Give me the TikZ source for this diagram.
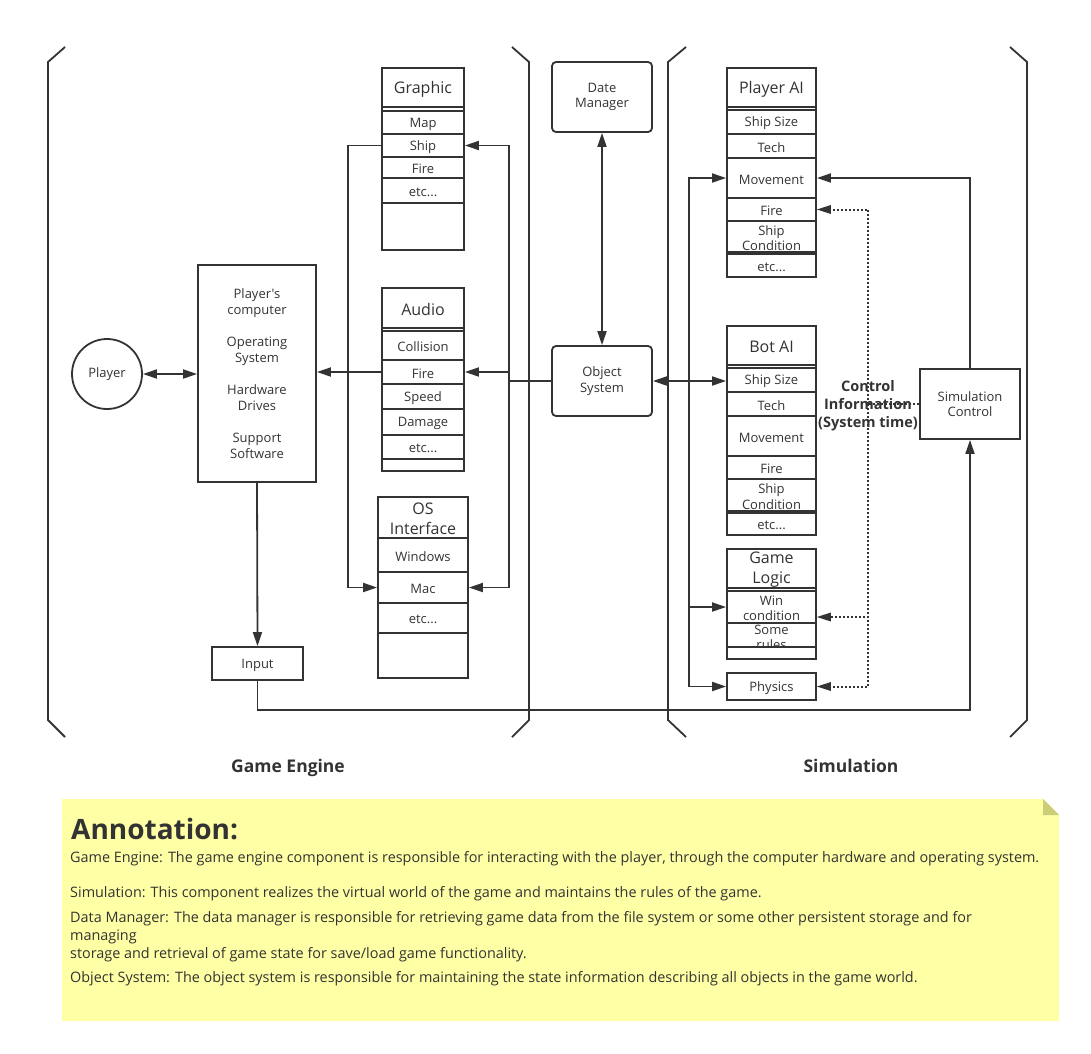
\documentclass[tikz,border=0pt]{standalone}
\usepackage{fontspec}
\setmainfont{Open Sans}[Ligatures=TeXOff]
\usetikzlibrary{arrows.meta,calc}
\definecolor{ink}{HTML}{333333}
\definecolor{notefill}{HTML}{FFFFA6}
\definecolor{foldfill}{HTML}{CDCD78}
\newcommand\mkcell[7][rowtxt]{%
 \pgfmathsetmacro\cw{#5-#3}\pgfmathsetmacro\ch{#6-#4}%
 \pgfmathsetmacro\cx{(#3+#5)/2}\pgfmathsetmacro\cy{(#4+#6)/2}%
 \node[cellb, minimum width=\cw pt, minimum height=\ch pt] (#2) at (\cx,\cy) {};%
 \node[#1] (#2-t) at (\cx,\cy) {#7};}
\tikzset{
 cellb/.style={draw=ink, line width=1.8pt, inner sep=0pt, rectangle},
 rowtxt/.style={inner sep=0pt, align=center, text=ink, yshift=-1.5pt, font=\fontsize{13}{15.5}\selectfont},
 hdrtxt/.style={rowtxt, font=\fontsize{16}{20}\selectfont},
 ln/.style={draw=ink, line width=1.8pt},
 bracket/.style={draw=ink, line width=1.8pt},
 tip/.tip={Triangle[length=14pt,width=9pt]},
 arr/.style={ln, -tip},
 arrb/.style={ln, tip-tip},
 dotln/.style={draw=ink, line width=2pt, dash pattern=on 2pt off 2pt},
 darr/.style={dotln, -{Triangle[length=14pt,width=9pt,line width=0pt]}},
 rbox/.style={draw=ink, line width=1.8pt, rounded corners=4pt, minimum width=100pt, minimum height=70pt, align=center, inner sep=0pt, text=ink, font=\fontsize{13}{15.5}\selectfont},
 sbox/.style={draw=ink, line width=1.8pt, minimum width=100pt, minimum height=70pt, align=center, inner sep=0pt, text=ink, font=\fontsize{13}{15.5}\selectfont},
 biglbl/.style={text=ink, inner sep=0pt, text height=12.5pt, text depth=4.5pt, font=\fontsize{17.5}{20}\selectfont\bfseries},
 notetxt/.style={anchor=west, inner sep=0pt, text=ink, font=\fontsize{14.4}{17}\selectfont, text height=10pt, text depth=3pt},
}
\begin{document}
\begin{tikzpicture}[x=1pt,y=-1pt]
\useasboundingbox (0,0) rectangle (1091,1053);
% brackets
\draw[bracket] (65,47) -- (48,62) -- (48,720) -- (65,737);
\draw[bracket] (512,47) -- (529,62) -- (529,720) -- (512,737);
\draw[bracket] (686,47) -- (668,62) -- (668,720) -- (686,737);
\draw[bracket] (1010,47) -- (1027,62) -- (1027,720) -- (1010,737);
\node[biglbl] (gelbl) at (288,768) {Game Engine};
\node[biglbl] (simlbl) at (851,768) {Simulation};

% Player and computer
\node[draw=ink, line width=1.8pt, circle, minimum size=70pt, inner sep=0pt, text=ink, font=\fontsize{13}{15.5}\selectfont] (player) at (107,374) {Player};
\node[draw=ink, line width=1.8pt, minimum width=118pt, minimum height=217pt, inner sep=0pt, align=center, text=ink, font=\fontsize{13}{16}\selectfont] (pc) at (257,373.5)
 {Player's\\computer\\[16pt]Operating\\System\\[16pt]Hardware\\Drives\\[16pt]Support\\Software};
\mkcell{input}{212}{647}{303}{680}{Input}

% Graphic
\mkcell{gfr}{382}{68}{464}{250}{}
\mkcell[hdrtxt]{ghd}{382}{68}{464}{107}{Graphic}
\mkcell{gmap}{382}{111}{464}{134}{Map}
\mkcell{gship}{382}{134}{464}{157}{Ship}
\mkcell{gfire}{382}{157}{464}{178}{Fire}
\mkcell{getc}{382}{178}{464}{203}{etc...}
% Audio
\mkcell{afr}{382}{288}{464}{471}{}
\mkcell[hdrtxt]{ahd}{382}{288}{464}{328}{Audio}
\mkcell{acol}{382}{331}{464}{360}{Collision}
\mkcell{afire}{382}{360}{464}{384}{Fire}
\mkcell{aspd}{382}{384}{464}{409}{Speed}
\mkcell{adam}{382}{409}{464}{435}{Damage}
\mkcell{aetc}{382}{435}{464}{459}{etc...}
% OS Interface
\mkcell{ofr}{378}{497}{468}{678}{}
\mkcell[hdrtxt]{ohd}{378}{497}{468}{538}{OS\\Interface}
\mkcell{owin}{378}{538}{468}{572}{Windows}
\mkcell{omac}{378}{572}{468}{603}{Mac}
\mkcell{oetc}{378}{603}{468}{633}{etc...}

% middle
\node[rbox] (date) at (602,97) {Date\\Manager};
\node[rbox] (obj) at (602,381) {Object\\System};

% Player AI
\mkcell{pfr}{727}{68}{816}{277}{}
\mkcell[hdrtxt]{phd}{727}{68}{816}{107}{Player AI}
\mkcell{psize}{727}{110}{816}{134}{Ship Size}
\mkcell{ptech}{727}{134}{816}{158}{Tech}
\mkcell{pmove}{727}{158}{816}{198}{Movement}
\mkcell{pfire}{727}{198}{816}{221}{Fire}
\mkcell{pcond}{727}{221}{816}{252}{Ship\\Condition}
\mkcell{petc}{727}{254}{816}{277}{etc...}
% Bot AI
\mkcell{bfr}{727}{326}{816}{535}{}
\mkcell[hdrtxt]{bhd}{727}{326}{816}{365}{Bot AI}
\mkcell{bsize}{727}{368}{816}{392}{Ship Size}
\mkcell{btech}{727}{392}{816}{416}{Tech}
\mkcell{bmove}{727}{416}{816}{456}{Movement}
\mkcell{bfire}{727}{456}{816}{479}{Fire}
\mkcell{bcond}{727}{479}{816}{511}{Ship\\Condition}
\mkcell{betc}{727}{513}{816}{535}{etc...}
% Game Logic
\mkcell{lfr}{727}{549}{816}{659}{}
\mkcell[hdrtxt]{lhd}{727}{549}{816}{588}{Game\\Logic}
\mkcell{lwin}{727}{591}{816}{623}{Win\\condition}
\begin{scope}
\clip (727,623) rectangle (816,647);
\node[rowtxt] (lrule-t) at (771.5,636) {Some\\rules};
\end{scope}
\node[cellb, minimum width=89pt, minimum height=24pt] (lrule) at (771.5,635) {};
\mkcell{phys}{727}{673}{816}{700}{Physics}

\node[sbox] (sim) at (970,404) {Simulation\\Control};

% connectors left
\draw[arrb] (player.east) -- (player.east -| pc.west);
\draw[arr] (pc.south) -- (input.north);
\draw[arr] (input.south) -- ++(0,29) -| (sim.south);
\coordinate (jL) at (348,372);
\draw[ln] (gship.west) -| (jL);
\draw[arr] (afire.west) -- (afire.west -| pc.east);
\draw[arr] (jL) |- (omac.west);
% connectors to object system
\coordinate (jR) at (509,381);
\draw[ln] (obj.west) -- (jR);
\draw[arr] (jR) |- (gship.east);
\draw[arr] (jR) |- (afire.east);
\draw[arr] (jR) |- (omac.east);
\draw[arrb] (date.south) -- (obj.north);
\draw[arrb] (obj.east) -- (obj.east -| bsize.west);
\coordinate (jS) at (689,381);
\draw[arr] (jS) |- (pmove.west);
\draw[arr] (jS) |- (lwin.west);
\draw[arr] (jS) |- (phys.west);
\draw[arr] (sim.north) |- (pmove.east);
% dotted control info
\coordinate (jD) at (868,404);
\draw[dotln] (sim.west) -- (jD);
\draw[darr] (jD) |- (pfire.east);
\draw[darr] (jD) |- ([yshift=-10pt]lwin.east);
\draw[darr] (jD) |- (phys.east);
\node[align=center, inner sep=0pt, text=ink, yshift=-1.5pt, font=\fontsize{14.5}{18}\selectfont\bfseries] (ctrl) at (868,404) {Control\\Information\\(System time)};

% annotation
\fill[notefill] (62,799) -- (1043,799) -- (1059,815) -- (1059,1021) -- (62,1021) -- cycle;
\fill[foldfill] (1043,799) -- (1059,815) -- (1043,815) -- cycle;
\node[anchor=west, inner sep=0pt, text=ink, font=\fontsize{28}{32}\selectfont\bfseries] (anntitle) at (71,829) {Annotation:};
\node[notetxt] (n1) at (70,859) {Game Engine: The game engine component is responsible for interacting with the player, through the computer hardware and operating system.};
\node[notetxt] (n2) at (70,894) {Simulation: This component realizes the virtual world of the game and maintains the rules of the game.};
\node[notetxt] (n3) at (70,919) {Data Manager: The data manager is responsible for retrieving game data from the file system or some other persistent storage and for};
\node[notetxt] (n4) at (70,937) {managing};
\node[notetxt] (n5) at (70,955) {storage and retrieval of game state for save/load game functionality.};
\node[notetxt] (n6) at (70,979) {Object System: The object system is responsible for maintaining the state information describing all objects in the game world.};
\end{tikzpicture}
\end{document}
